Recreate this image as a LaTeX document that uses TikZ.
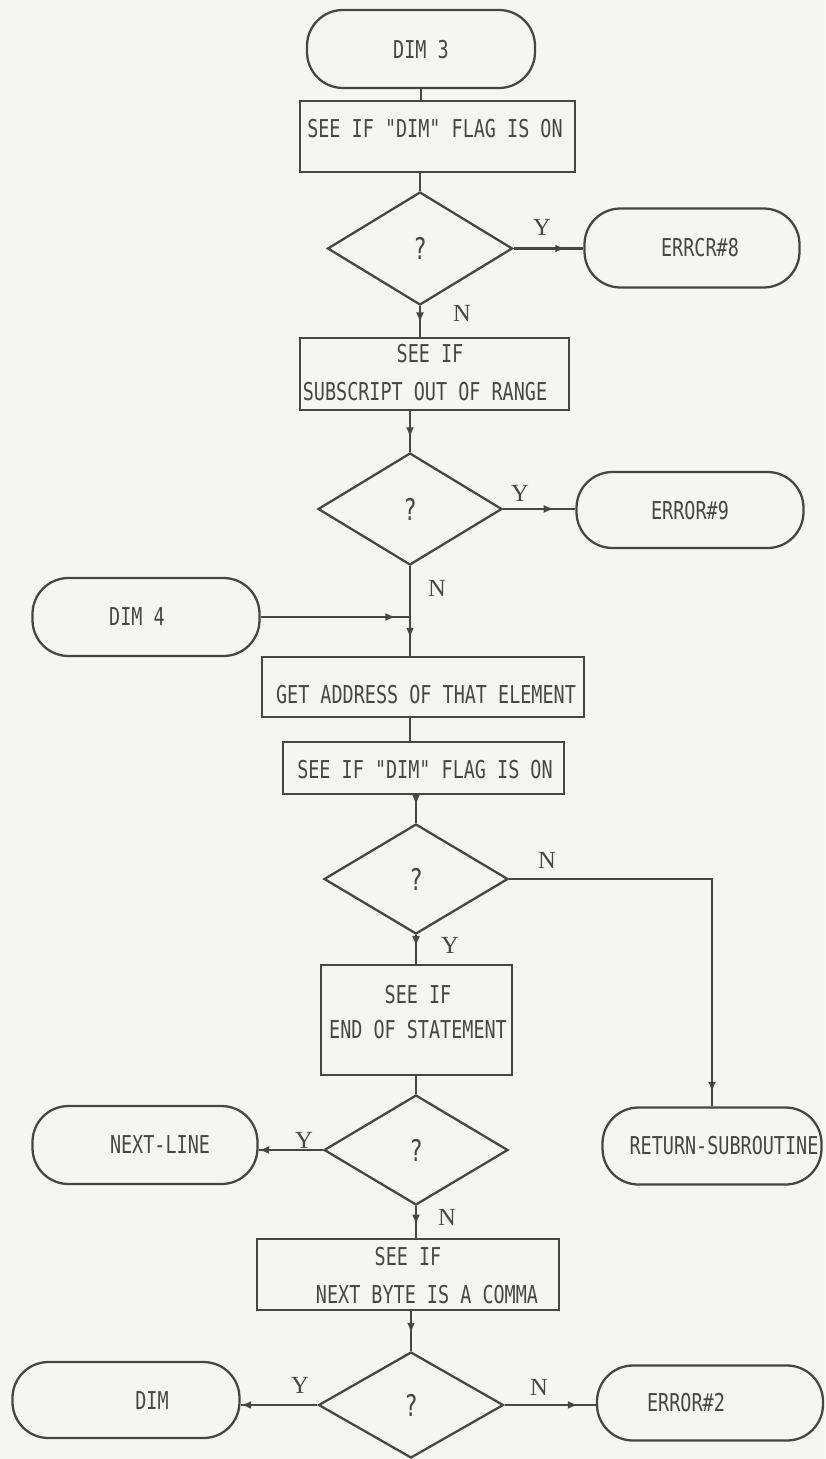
\documentclass[tikz,border=0pt]{standalone}
\usepackage{fontspec}
\newfontfamily\dotfont[FakeStretch=0.75]{DejaVu Sans Mono}
\newfontfamily\lblfont{Liberation Serif}
\usetikzlibrary{shapes.geometric,decorations.markings,arrows.meta}

\definecolor{paper}{RGB}{245,245,241}
\definecolor{ink}{RGB}{70,70,70}

\begin{document}
\begin{tikzpicture}[
  x=0.02cm, y=-0.02cm,
  line width=1.3pt,
  every node/.style={text=ink},
  sz/.style 2 args={minimum width=#1*0.02cm, minimum height=#2*0.02cm},
  term/.style={draw=ink, rectangle, rounded corners=0.72cm, inner sep=0pt},
  proc/.style={draw=ink, rectangle, inner sep=0pt},
  dec/.style={draw=ink, diamond, inner sep=0pt, font=\dotfont\fontsize{17pt}{19pt}\selectfont},
  txt/.style={font=\dotfont\fontsize{14pt}{16pt}\selectfont, inner sep=0pt},
  yn/.style={font=\lblfont\fontsize{14pt}{16pt}\selectfont, inner sep=0pt},
  flow/.style={draw=ink, line width=1.3pt},
  arr/.style={postaction=decorate, decoration={markings,
      mark=at position #1 with {\arrow{Latex[length=6pt,width=4.5pt]}}}}
]
% paper
\fill[paper] (0,0) rectangle (825,1459);
\useasboundingbox (0,0) rectangle (825,1459);

% ---- shapes ----
\node[term, sz={228}{78}] (dim3) at (421,49) {};
\node[proc, sz={275}{71}] (b1) at (437.5,136.5) {};
\node[dec, sz={185}{113}] (d1) at (420,248.5) {?};
\node[term, sz={215}{79}] (err8) at (692,248) {};
\node[proc, sz={269}{72}] (b2) at (434.5,374) {};
\node[dec, sz={184}{112}] (d2) at (410,509) {?};
\node[term, sz={227}{76}] (err9) at (690,510) {};
\node[term, sz={227}{78}] (dim4) at (146,617) {};
\node[proc, sz={322}{60}] (b3) at (423,687) {};
\node[proc, sz={281}{52}] (b4) at (423.5,768) {};
\node[dec, sz={184}{110}] (d3) at (416,879) {?};
\node[proc, sz={191}{110}] (b5) at (416.5,1020) {};
\node[dec, sz={184}{110}] (d4) at (416,1150) {?};
\node[term, sz={225}{78}] (nextl) at (145,1145) {};
\node[term, sz={219}{77}] (ret) at (712,1146) {};
\node[proc, sz={302}{71}] (b6) at (408,1274.5) {};
\node[dec, sz={185}{106}] (d5) at (411,1405) {?};
\node[term, sz={227}{76}] (dimt) at (126,1400) {};
\node[term, sz={226}{75}] (err2) at (710,1403) {};

% ---- texts ----
\node[txt] (tdim3) at (421,50) {DIM 3};
\node[txt] (tb1) at (435,129) {SEE IF "DIM" FLAG IS ON};
\node[txt] (terr8) at (700,248) {ERRCR\#8};
\node[txt] (tb2a) at (430,354) {SEE IF};
\node[txt] (tb2b) at (425,392) {SUBSCRIPT OUT OF RANGE};
\node[txt] (terr9) at (690,511) {ERROR\#9};
\node[txt] (tdim4) at (137,617) {DIM 4};
\node[txt] (tb3) at (426,695) {GET ADDRESS OF THAT ELEMENT};
\node[txt] (tb4) at (425,770) {SEE IF "DIM" FLAG IS ON};
\node[txt] (tb5a) at (418,995) {SEE IF};
\node[txt] (tb5b) at (418,1030) {END OF STATEMENT};
\node[txt] (tnext) at (160,1145) {NEXT-LINE};
\node[txt] (tret) at (724,1146) {RETURN-SUBROUTINE};
\node[txt] (tb6a) at (408,1257) {SEE IF};
\node[txt] (tb6b) at (427,1295) {NEXT BYTE IS A COMMA};
\node[txt] (tdim) at (152,1401) {DIM};
\node[txt] (terr2) at (686,1403) {ERROR\#2};

% ---- branch labels ----
\node[yn] (ly1) at (542,227) {Y};
\node[yn] (ln1) at (462,313) {N};
\node[yn] (ly2) at (520,493) {Y};
\node[yn] (ln2) at (437,588) {N};
\node[yn] (ln3) at (547,860) {N};
\node[yn] (ly3) at (450,945) {Y};
\node[yn] (ly4) at (304,1140) {Y};
\node[yn] (ln4) at (447,1217) {N};
\node[yn] (ly5) at (300,1385) {Y};
\node[yn] (ln5) at (539,1387) {N};

% ---- connectors ----
\coordinate (join) at (d2.south |- dim4.east);
\coordinate (turn) at (ret.north |- d3.east);

\draw[flow] (dim3.south) -- (dim3.south |- b1.north);
\draw[flow] (d1.north |- b1.south) -- (d1.north);
\draw[flow, arr=-10pt] (d1.east) -- (d1.east -| err8.west);
\draw[flow, arr=0.55] (d1.south) -- (d1.south |- b2.north);
\draw[flow, arr=-8pt] (d2.north |- b2.south) -- (d2.north);
\draw[flow, arr=-12pt] (d2.east) -- (d2.east -| err9.west);
\draw[flow, arr=-10pt] (d2.south) -- (d2.south |- b3.north);
\draw[flow, arr=-8pt] (dim4.east) -- (join);
\draw[flow] (d2.south |- b3.south) -- (d2.south |- b4.north);
\draw[flow, arr=-10pt] (d3.north |- b4.south) -- (d3.north);
\draw[flow, arr=-8pt] (d3.east) -- (turn) -- (ret.north);
\draw[flow, arr=0.4] (d3.south) -- (d3.south |- b5.north);
\draw[flow] (d4.north |- b5.south) -- (d4.north);
\draw[flow, arr=1] (d4.west) -- (d4.west -| nextl.east);
\draw[flow, arr=0.6] (d4.south) -- (d4.south |- b6.north);
\draw[flow, arr=-10pt] (d5.north |- b6.south) -- (d5.north);
\draw[flow, arr=1] (d5.west) -- (d5.west -| dimt.east);
\draw[flow, arr=-10pt] (d5.east) -- (d5.east -| err2.west);
\end{tikzpicture}
\end{document}
